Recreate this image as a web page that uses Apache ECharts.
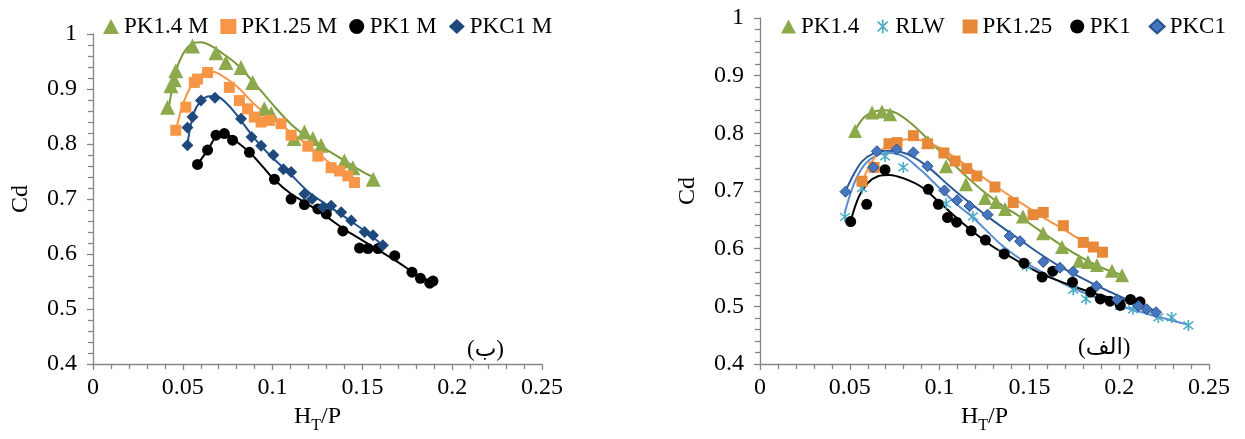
<!DOCTYPE html>
<html><head><meta charset="utf-8">
<script src="https://cdn.jsdelivr.net/npm/echarts@6/dist/echarts.min.js"></script>
<style>html,body{margin:0;padding:0;background:#fff}#c{width:1245px;height:439px}</style>
</head><body><div id="c"></div>
<script>
// ---------- axis ticks ----------
const xMin = 0, xMax = 0.25, xStep = 0.05;
const yMin = 0.4, yMax = 1, yStep = 0.1;

// ---------- panel (ب) : models ----------
const bPK14 = [[0.0415,0.867],[0.0434,0.906],[0.0452,0.917],[0.0461,0.933],[0.0554,0.978],[0.0685,0.966],[0.074,0.948],[0.0824,0.939],[0.0889,0.912],[0.0954,0.864],[0.0992,0.855],[0.112,0.810],[0.1177,0.822],[0.1224,0.810],[0.127,0.798],[0.140,0.769],[0.1447,0.757],[0.156,0.736]];
const bPK14Trend = [[0.042,0.862],[0.046,0.93],[0.05,0.963],[0.055,0.982],[0.06,0.985],[0.066,0.978],[0.072,0.965],[0.08,0.945],[0.09,0.91],[0.1,0.872],[0.11,0.837],[0.12,0.811],[0.13,0.79],[0.14,0.77],[0.15,0.75],[0.156,0.74]];
const bPK125 = [[0.0461,0.825],[0.0517,0.867],[0.0564,0.912],[0.0582,0.918],[0.0638,0.930],[0.0759,0.903],[0.0815,0.879],[0.0861,0.864],[0.0898,0.849],[0.0936,0.840],[0.0982,0.843],[0.1047,0.837],[0.1103,0.816],[0.1196,0.796],[0.1252,0.778],[0.1326,0.757],[0.1373,0.751],[0.1419,0.742],[0.1456,0.730]];
const bPK125Trend = [[0.046,0.822],[0.05,0.872],[0.055,0.908],[0.06,0.926],[0.065,0.932],[0.07,0.928],[0.08,0.905],[0.09,0.872],[0.1,0.846],[0.11,0.822],[0.12,0.797],[0.13,0.77],[0.1456,0.733]];
const bPK1 = [[0.0582,0.763],[0.0638,0.789],[0.0685,0.816],[0.0731,0.819],[0.0777,0.807],[0.0871,0.785],[0.101,0.736],[0.1103,0.700],[0.1177,0.690],[0.1252,0.682],[0.1299,0.673],[0.1391,0.642],[0.1484,0.611],[0.1531,0.610],[0.1587,0.610],[0.168,0.597],[0.1776,0.567],[0.1823,0.556],[0.1875,0.547],[0.1893,0.551]];
const bPK1Trend = [[0.0582,0.763],[0.0638,0.789],[0.0685,0.813],[0.0731,0.82],[0.0777,0.81],[0.0871,0.785],[0.095,0.757],[0.101,0.735],[0.11,0.71],[0.12,0.69],[0.13,0.668],[0.14,0.645],[0.15,0.625],[0.16,0.605],[0.17,0.585],[0.18,0.563],[0.1893,0.548]];
const bPKC1 = [[0.0526,0.798],[0.0526,0.830],[0.0554,0.849],[0.0601,0.879],[0.0679,0.884],[0.0824,0.846],[0.0883,0.813],[0.0936,0.797],[0.1004,0.780],[0.106,0.754],[0.1103,0.749],[0.1177,0.709],[0.122,0.700],[0.128,0.685],[0.1326,0.688],[0.1382,0.676],[0.1438,0.661],[0.1512,0.640],[0.1559,0.634],[0.1614,0.616]];
const bPKC1Trend = [[0.0526,0.80],[0.056,0.855],[0.06,0.878],[0.065,0.887],[0.07,0.885],[0.075,0.872],[0.08,0.853],[0.09,0.81],[0.1,0.775],[0.11,0.745],[0.12,0.713],[0.13,0.69],[0.14,0.668],[0.15,0.645],[0.1614,0.616]];

// ---------- panel (الف) : experiments ----------
const aPK14 = [[0.0529,0.804],[0.0624,0.836],[0.0679,0.838],[0.0724,0.833],[0.0935,0.785],[0.1036,0.743],[0.1147,0.712],[0.1253,0.688],[0.1314,0.681],[0.1364,0.669],[0.1464,0.656],[0.1576,0.627],[0.1682,0.603],[0.1776,0.579],[0.1826,0.577],[0.1876,0.572],[0.196,0.562],[0.2016,0.554]];
const aPK14Trend = [[0.0529,0.805],[0.058,0.828],[0.064,0.838],[0.07,0.84],[0.076,0.835],[0.085,0.815],[0.095,0.785],[0.105,0.755],[0.115,0.725],[0.125,0.698],[0.135,0.675],[0.145,0.655],[0.155,0.633],[0.165,0.612],[0.175,0.592],[0.185,0.575],[0.195,0.561],[0.2016,0.555]];
const aRLW = [[0.0473,0.655],[0.0568,0.705],[0.0696,0.760],[0.0798,0.741],[0.1036,0.678],[0.1186,0.656],[0.1355,0.593],[0.1485,0.570],[0.1744,0.529],[0.1815,0.513],[0.2004,0.501],[0.2077,0.495],[0.2218,0.481],[0.2292,0.481],[0.2385,0.467]];
const aRLWTrend = [[0.047,0.66],[0.052,0.71],[0.058,0.745],[0.065,0.762],[0.072,0.766],[0.08,0.76],[0.09,0.735],[0.1,0.705],[0.11,0.676],[0.12,0.65],[0.135,0.605],[0.15,0.572],[0.17,0.538],[0.19,0.512],[0.21,0.492],[0.2385,0.468]];
const aPK125 = [[0.0568,0.717],[0.0635,0.741],[0.0718,0.782],[0.0763,0.784],[0.0854,0.796],[0.0933,0.782],[0.1024,0.766],[0.1086,0.752],[0.1151,0.739],[0.1207,0.726],[0.1308,0.707],[0.141,0.680],[0.152,0.659],[0.1577,0.663],[0.1689,0.640],[0.18,0.611],[0.1856,0.603],[0.1907,0.594]];
const aPK125Trend = [[0.0568,0.715],[0.062,0.75],[0.068,0.772],[0.075,0.785],[0.082,0.79],[0.09,0.788],[0.1,0.775],[0.11,0.755],[0.12,0.733],[0.13,0.711],[0.14,0.69],[0.15,0.67],[0.16,0.65],[0.17,0.632],[0.18,0.612],[0.1907,0.592]];
const aPK1 = [[0.0505,0.647],[0.0594,0.677],[0.0696,0.737],[0.0937,0.703],[0.0993,0.677],[0.1044,0.654],[0.1095,0.646],[0.1176,0.631],[0.1255,0.615],[0.136,0.591],[0.147,0.575],[0.1571,0.551],[0.163,0.561],[0.174,0.542],[0.1842,0.525],[0.1895,0.513],[0.1949,0.509],[0.2006,0.502],[0.2063,0.512],[0.2116,0.508]];
const aPK1Trend = [[0.0505,0.648],[0.055,0.69],[0.06,0.714],[0.066,0.726],[0.072,0.728],[0.08,0.722],[0.09,0.707],[0.1,0.68],[0.11,0.652],[0.12,0.626],[0.13,0.603],[0.14,0.585],[0.15,0.567],[0.16,0.552],[0.17,0.54],[0.18,0.529],[0.19,0.519],[0.2,0.512],[0.2116,0.507]];
const aPKC1 = [[0.0476,0.699],[0.0631,0.741],[0.0651,0.769],[0.0761,0.772],[0.0854,0.767],[0.0933,0.743],[0.1027,0.701],[0.1097,0.684],[0.1167,0.674],[0.1267,0.659],[0.139,0.622],[0.1448,0.613],[0.1577,0.577],[0.167,0.567],[0.1743,0.560],[0.1874,0.535],[0.1988,0.512],[0.2107,0.501],[0.2153,0.495],[0.2205,0.490]];
const aPKC1Trend = [[0.0476,0.70],[0.052,0.728],[0.057,0.752],[0.063,0.765],[0.07,0.77],[0.078,0.768],[0.086,0.758],[0.095,0.738],[0.105,0.71],[0.115,0.684],[0.125,0.66],[0.135,0.637],[0.145,0.615],[0.155,0.593],[0.165,0.573],[0.175,0.556],[0.185,0.54],[0.195,0.525],[0.205,0.511],[0.2205,0.492]];

const legendB = ['PK1.4 M','PK1.25 M','PK1 M','PKC1 M'];
const legendA = ['PK1.4','RLW','PK1.25','PK1','PKC1'];
const panelTags = ['(ب)','(الف)'];

// ---------- styling ----------
const SERIF = 'Liberation Serif';
const AX = '#868686';
const FS = 24;
const STAR = 'path://M-1.2,-10L1.2,-10L1.2,10L-1.2,10Z M-7.92,-6.22L-6.22,-7.92L7.92,6.22L6.22,7.92Z M-6.22,7.92L-7.92,6.22L6.22,-7.92L7.92,-6.22Z';

function xAxis(gi){
  return {type:'value', gridIndex:gi, min:xMin, max:xMax, interval:xStep,
    axisLine:{show:true,onZero:false,lineStyle:{color:AX,width:1.3}},
    axisTick:{show:true,inside:false,length:6,lineStyle:{color:AX,width:1.3}},
    minorTick:{show:true,splitNumber:5,length:5,lineStyle:{color:AX,width:1.3}},
    splitLine:{show:false}, minorSplitLine:{show:false},
    axisLabel:{color:'#000',fontFamily:SERIF,fontSize:FS,margin:12},
    name:'{h|H}{t|T}{h|/P}', nameLocation:'middle', nameGap:34,
    nameTextStyle:{rich:{h:{fontFamily:SERIF,fontSize:24,color:'#000',lineHeight:24,verticalAlign:'top'},
                         t:{fontFamily:SERIF,fontSize:16,color:'#000',lineHeight:16,padding:[13,0,0,0],verticalAlign:'top'}}}};
}
function yAxis(gi,gap){
  return {type:'value', gridIndex:gi, min:yMin, max:yMax, interval:yStep,
    axisLine:{show:true,onZero:false,lineStyle:{color:AX,width:1.3}},
    axisTick:{show:true,inside:false,length:6,lineStyle:{color:AX,width:1.3}},
    minorTick:{show:true,splitNumber:5,length:5,lineStyle:{color:AX,width:1.3}},
    splitLine:{show:false}, minorSplitLine:{show:false},
    axisLabel:{color:'#000',fontFamily:SERIF,fontSize:FS,margin:16},
    name:'Cd', nameLocation:'middle', nameGap:gap, nameRotate:90,
    nameTextStyle:{fontFamily:SERIF,fontSize:24,color:'#000'}};
}
function trend(gi,data,color,w){
  return {type:'line', name:'_t', xAxisIndex:gi, yAxisIndex:gi, data:data, smooth:0.35,
    symbol:'none', lineStyle:{color:color,width:w||2}, z:2, silent:true, legendHoverLink:false};
}
function pts(gi,name,data,symbol,size,color,border){
  return {type:'scatter', name:name, xAxisIndex:gi, yAxisIndex:gi, data:data, symbol:symbol, symbolSize:size,
    itemStyle:{color:color, opacity:1, borderColor:border||color, borderWidth:border?1:0}, z:3};
}

const GREEN='#8CAA4B', GREENL='#789A3A', ORANGE='#F79646', ORANGE2='#E8893A', NAVY='#1F497D', NAVYL='#24508C',
      TEAL='#4BACC6', LBLUE='#5B8DD0', BLUE='#4677BE', BLUEL='#2C5A99';

const chart = echarts.init(document.getElementById('c'), null, {renderer:'canvas'});
chart.setOption({
  animation:false,
  backgroundColor:'#fff',
  grid:[{left:93,top:34,width:449,height:336},{left:760,top:18,width:449,height:352}],
  xAxis:[xAxis(0),xAxis(1)],
  yAxis:[yAxis(0,60),yAxis(1,60)],
  legend:[
    {left:98,top:10,itemGap:12,itemWidth:16,itemHeight:15,textStyle:{fontFamily:SERIF,fontSize:23,color:'#000'},
     data:[{name:legendB[0],icon:'triangle'},{name:legendB[1],icon:'rect'},{name:legendB[2],icon:'circle'},{name:legendB[3],icon:'diamond'}]},
    {left:776,top:10,itemGap:18,itemWidth:15,itemHeight:14,textStyle:{fontFamily:SERIF,fontSize:23,color:'#000'},
     data:[{name:legendA[0],icon:'triangle'},{name:legendA[1],icon:STAR},{name:legendA[2],icon:'rect'},{name:legendA[3],icon:'circle'},{name:legendA[4],icon:'diamond'}]}
  ],
  graphic:[
    {type:'text',left:467,top:338,style:{text:panelTags[0],font:'23px "Liberation Serif", "DejaVu Sans"',fill:'#000'}},
    {type:'text',left:1078,top:336,style:{text:panelTags[1],font:'23px "Liberation Serif", "DejaVu Sans"',fill:'#000'}}
  ],
  series:[
    trend(0,bPK14Trend,GREENL), pts(0,legendB[0],bPK14,'triangle',15,GREEN),
    trend(0,bPK125Trend,ORANGE), pts(0,legendB[1],bPK125,'rect',11,ORANGE),
    trend(0,bPK1Trend,'#000'), pts(0,legendB[2],bPK1,'circle',11,'#000'),
    trend(0,bPKC1Trend,NAVYL), pts(0,legendB[3],bPKC1,'diamond',12,NAVY),

    trend(1,aPK14Trend,GREENL), pts(1,legendA[0],aPK14,'triangle',14,GREEN),
    trend(1,aRLWTrend,LBLUE), pts(1,legendA[1],aRLW,STAR,11,TEAL),
    trend(1,aPK125Trend,ORANGE), pts(1,legendA[2],aPK125,'rect',11,ORANGE2),
    trend(1,aPK1Trend,'#000'), pts(1,legendA[3],aPK1,'circle',11,'#000'),
    trend(1,aPKC1Trend,BLUEL), pts(1,legendA[4],aPKC1,'diamond',11,BLUE,'#25508F')
  ]
});
</script>
</body></html>
